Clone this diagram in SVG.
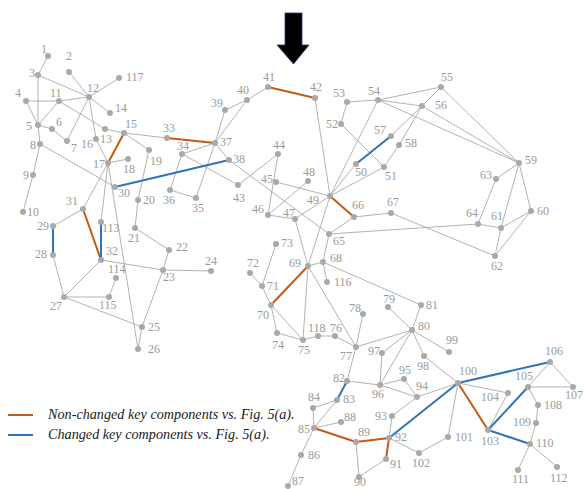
<svg xmlns="http://www.w3.org/2000/svg" width="584" height="489" viewBox="0 0 584 489">
<style>
.e line{stroke:#a0a0a0;stroke-width:0.8;fill:none}
.e line.o,line.o{stroke:#c55a11;stroke-width:2}
.e line.b,line.b{stroke:#2e75b6;stroke-width:2}
circle{fill:#a9a9a9}
text{font-family:"Liberation Serif","Times New Roman",serif;font-size:12px;fill:#9a9a9a}
.lg{font-style:italic;font-size:14.2px;fill:#1a1a1a}
</style>
<rect width="584" height="489" fill="#fff"/>
<polygon points="285,13 302,13 302,45 309,45 293.5,64 277,45 285,45" fill="#000" stroke="#1f3864" stroke-width="0.8"/>
<g id="edges" class="e">
<line x1="48" y1="56" x2="38" y2="75"/>
<line x1="69" y1="72" x2="89" y2="97"/>
<line x1="38" y1="75" x2="38" y2="125"/>
<line x1="38" y1="75" x2="89" y2="97"/>
<line x1="26" y1="101" x2="59" y2="101"/>
<line x1="26" y1="101" x2="38" y2="125"/>
<line x1="59" y1="101" x2="89" y2="97"/>
<line x1="59" y1="101" x2="38" y2="125"/>
<line x1="59" y1="101" x2="105" y2="129"/>
<line x1="105" y1="129" x2="124" y2="133"/>
<line x1="124" y1="133" x2="167" y2="138"/>
<line x1="89" y1="97" x2="119" y2="78"/>
<line x1="89" y1="97" x2="110" y2="113"/>
<line x1="89" y1="97" x2="67" y2="141"/>
<line x1="89" y1="97" x2="96" y2="139"/>
<line x1="38" y1="125" x2="52" y2="129"/>
<line x1="52" y1="129" x2="67" y2="141"/>
<line x1="38" y1="125" x2="40" y2="144"/>
<line x1="40" y1="144" x2="33" y2="175"/>
<line x1="33" y1="175" x2="23" y2="212"/>
<line x1="40" y1="144" x2="115" y2="187"/>
<line x1="96" y1="139" x2="108" y2="163"/>
<line x1="108" y1="163" x2="128" y2="159"/>
<line x1="124" y1="133" x2="149" y2="150"/>
<line x1="149" y1="150" x2="138" y2="200"/>
<line x1="138" y1="200" x2="135" y2="228"/>
<line x1="108" y1="163" x2="83" y2="209"/>
<line x1="108" y1="163" x2="101" y2="222"/>
<line x1="108" y1="163" x2="138" y2="349"/>
<line x1="53" y1="226" x2="83" y2="209"/>
<line x1="53" y1="255" x2="64" y2="297"/>
<line x1="101" y1="260" x2="64" y2="297"/>
<line x1="101" y1="260" x2="163" y2="270"/>
<line x1="135" y1="228" x2="169" y2="250"/>
<line x1="169" y1="250" x2="163" y2="270"/>
<line x1="163" y1="270" x2="211" y2="271"/>
<line x1="163" y1="270" x2="142" y2="327"/>
<line x1="116" y1="278" x2="109" y2="297"/>
<line x1="64" y1="297" x2="109" y2="297"/>
<line x1="64" y1="297" x2="142" y2="327"/>
<line x1="142" y1="327" x2="138" y2="349"/>
<line x1="215" y1="143" x2="225" y2="110"/>
<line x1="225" y1="110" x2="247" y2="100"/>
<line x1="247" y1="100" x2="215" y2="143"/>
<line x1="247" y1="100" x2="268" y2="87"/>
<line x1="215" y1="143" x2="182" y2="154"/>
<line x1="182" y1="154" x2="170" y2="190"/>
<line x1="170" y1="190" x2="196" y2="198"/>
<line x1="196" y1="198" x2="215" y2="143"/>
<line x1="215" y1="143" x2="229" y2="160"/>
<line x1="229" y1="160" x2="329" y2="234"/>
<line x1="182" y1="154" x2="238" y2="185"/>
<line x1="238" y1="185" x2="278" y2="154"/>
<line x1="278" y1="154" x2="268" y2="215"/>
<line x1="276" y1="182" x2="330" y2="196"/>
<line x1="268" y1="215" x2="308" y2="181"/>
<line x1="268" y1="215" x2="295" y2="219"/>
<line x1="295" y1="219" x2="330" y2="196"/>
<line x1="295" y1="219" x2="308" y2="266"/>
<line x1="315" y1="98" x2="330" y2="196"/>
<line x1="330" y1="196" x2="378" y2="100"/>
<line x1="330" y1="196" x2="356" y2="164"/>
<line x1="330" y1="196" x2="384" y2="167"/>
<line x1="341" y1="124" x2="384" y2="167"/>
<line x1="347" y1="102" x2="341" y2="124"/>
<line x1="347" y1="102" x2="378" y2="100"/>
<line x1="378" y1="100" x2="441" y2="87"/>
<line x1="378" y1="100" x2="422" y2="106"/>
<line x1="378" y1="100" x2="519" y2="163"/>
<line x1="422" y1="106" x2="519" y2="163"/>
<line x1="441" y1="87" x2="519" y2="163"/>
<line x1="441" y1="87" x2="422" y2="106"/>
<line x1="422" y1="106" x2="391" y2="136"/>
<line x1="422" y1="106" x2="399" y2="145"/>
<line x1="399" y1="145" x2="384" y2="167"/>
<line x1="519" y1="163" x2="496" y2="179"/>
<line x1="496" y1="179" x2="478" y2="224"/>
<line x1="519" y1="163" x2="501" y2="228"/>
<line x1="519" y1="163" x2="531" y2="211"/>
<line x1="531" y1="211" x2="501" y2="228"/>
<line x1="531" y1="211" x2="495" y2="256"/>
<line x1="501" y1="228" x2="495" y2="256"/>
<line x1="478" y1="224" x2="501" y2="228"/>
<line x1="329" y1="234" x2="478" y2="224"/>
<line x1="354" y1="217" x2="391" y2="213"/>
<line x1="391" y1="213" x2="495" y2="256"/>
<line x1="354" y1="217" x2="329" y2="234"/>
<line x1="329" y1="234" x2="323" y2="262"/>
<line x1="323" y1="262" x2="327" y2="282"/>
<line x1="323" y1="262" x2="421" y2="305"/>
<line x1="308" y1="266" x2="323" y2="262"/>
<line x1="308" y1="266" x2="330" y2="196"/>
<line x1="308" y1="266" x2="303" y2="340"/>
<line x1="308" y1="266" x2="356" y2="347"/>
<line x1="276" y1="244" x2="262" y2="286"/>
<line x1="250" y1="273" x2="262" y2="286"/>
<line x1="262" y1="286" x2="271" y2="305"/>
<line x1="271" y1="305" x2="277" y2="333"/>
<line x1="271" y1="305" x2="303" y2="340"/>
<line x1="277" y1="333" x2="303" y2="340"/>
<line x1="303" y1="340" x2="318" y2="336"/>
<line x1="318" y1="336" x2="335" y2="336"/>
<line x1="335" y1="336" x2="356" y2="347"/>
<line x1="356" y1="347" x2="363" y2="314"/>
<line x1="356" y1="347" x2="412" y2="330"/>
<line x1="356" y1="347" x2="347" y2="381"/>
<line x1="388" y1="307" x2="412" y2="330"/>
<line x1="412" y1="330" x2="421" y2="305"/>
<line x1="412" y1="330" x2="382" y2="353"/>
<line x1="412" y1="330" x2="380" y2="385"/>
<line x1="412" y1="330" x2="424" y2="356"/>
<line x1="412" y1="330" x2="449" y2="352"/>
<line x1="382" y1="353" x2="380" y2="385"/>
<line x1="424" y1="356" x2="458" y2="383"/>
<line x1="417" y1="397" x2="458" y2="383"/>
<line x1="347" y1="381" x2="380" y2="385"/>
<line x1="380" y1="385" x2="404" y2="379"/>
<line x1="380" y1="385" x2="417" y2="397"/>
<line x1="404" y1="379" x2="417" y2="397"/>
<line x1="313" y1="408" x2="337" y2="400"/>
<line x1="313" y1="408" x2="314" y2="428"/>
<line x1="337" y1="400" x2="314" y2="428"/>
<line x1="314" y1="428" x2="301" y2="455"/>
<line x1="301" y1="455" x2="288" y2="486"/>
<line x1="314" y1="428" x2="341" y2="422"/>
<line x1="356" y1="442" x2="359" y2="477"/>
<line x1="359" y1="477" x2="386" y2="459"/>
<line x1="389" y1="438" x2="392" y2="416"/>
<line x1="392" y1="416" x2="417" y2="397"/>
<line x1="389" y1="438" x2="419" y2="453"/>
<line x1="419" y1="453" x2="448" y2="437"/>
<line x1="458" y1="383" x2="448" y2="437"/>
<line x1="458" y1="383" x2="508" y2="393"/>
<line x1="508" y1="393" x2="488" y2="430"/>
<line x1="528" y1="387" x2="550" y2="362"/>
<line x1="550" y1="362" x2="573" y2="387"/>
<line x1="528" y1="387" x2="573" y2="387"/>
<line x1="528" y1="387" x2="538" y2="405"/>
<line x1="538" y1="405" x2="536" y2="423"/>
<line x1="536" y1="423" x2="530" y2="444"/>
<line x1="530" y1="444" x2="518" y2="470"/>
<line x1="530" y1="444" x2="557" y2="467"/>
<line class="o" x1="124" y1="133" x2="108" y2="163"/>
<line class="o" x1="83" y1="209" x2="101" y2="260"/>
<line class="o" x1="167" y1="138" x2="215" y2="143"/>
<line class="o" x1="268" y1="87" x2="315" y2="98"/>
<line class="o" x1="330" y1="196" x2="354" y2="217"/>
<line class="o" x1="308" y1="266" x2="271" y2="305"/>
<line class="o" x1="314" y1="428" x2="356" y2="442"/>
<line class="o" x1="356" y1="442" x2="389" y2="438"/>
<line class="o" x1="389" y1="438" x2="386" y2="459"/>
<line class="o" x1="458" y1="383" x2="488" y2="430"/>
<line class="b" x1="53" y1="226" x2="53" y2="255"/>
<line class="b" x1="101" y1="222" x2="101" y2="260"/>
<line class="b" x1="115" y1="187" x2="229" y2="160"/>
<line class="b" x1="356" y1="164" x2="391" y2="136"/>
<line class="b" x1="347" y1="381" x2="337" y2="400"/>
<line class="b" x1="389" y1="438" x2="458" y2="383"/>
<line class="b" x1="458" y1="383" x2="550" y2="362"/>
<line class="b" x1="488" y1="430" x2="528" y2="387"/>
<line class="b" x1="488" y1="430" x2="530" y2="444"/>
</g>
<g id="nodes">
<g id="n1"><circle cx="48" cy="56" r="3"/><text x="41" y="53">1</text></g>
<g id="n2"><circle cx="69" cy="72" r="3"/><text x="66" y="60">2</text></g>
<g id="n3"><circle cx="38" cy="75" r="3"/><text x="29" y="77">3</text></g>
<g id="n4"><circle cx="26" cy="101" r="3"/><text x="15" y="97">4</text></g>
<g id="n5"><circle cx="38" cy="125" r="3"/><text x="26" y="130">5</text></g>
<g id="n6"><circle cx="52" cy="129" r="3"/><text x="56" y="126">6</text></g>
<g id="n7"><circle cx="67" cy="141" r="3"/><text x="71" y="152">7</text></g>
<g id="n8"><circle cx="40" cy="144" r="3"/><text x="30" y="149">8</text></g>
<g id="n9"><circle cx="33" cy="175" r="3"/><text x="23" y="179">9</text></g>
<g id="n10"><circle cx="23" cy="212" r="3"/><text x="27" y="216">10</text></g>
<g id="n11"><circle cx="59" cy="101" r="3"/><text x="50" y="97">11</text></g>
<g id="n12"><circle cx="89" cy="97" r="3"/><text x="87" y="92">12</text></g>
<g id="n13"><circle cx="105" cy="129" r="3"/><text x="100" y="143">13</text></g>
<g id="n14"><circle cx="110" cy="113" r="3"/><text x="115" y="112">14</text></g>
<g id="n15"><circle cx="124" cy="133" r="3"/><text x="125" y="128">15</text></g>
<g id="n16"><circle cx="96" cy="139" r="3"/><text x="81" y="148">16</text></g>
<g id="n17"><circle cx="108" cy="163" r="3"/><text x="93" y="168">17</text></g>
<g id="n18"><circle cx="128" cy="159" r="3"/><text x="123" y="173">18</text></g>
<g id="n19"><circle cx="149" cy="150" r="3"/><text x="150" y="165">19</text></g>
<g id="n20"><circle cx="138" cy="200" r="3"/><text x="143" y="204">20</text></g>
<g id="n21"><circle cx="135" cy="228" r="3"/><text x="128" y="242">21</text></g>
<g id="n22"><circle cx="169" cy="250" r="3"/><text x="176" y="251">22</text></g>
<g id="n23"><circle cx="163" cy="270" r="3"/><text x="163" y="281">23</text></g>
<g id="n24"><circle cx="211" cy="271" r="3"/><text x="205" y="265">24</text></g>
<g id="n25"><circle cx="142" cy="327" r="3"/><text x="148" y="331">25</text></g>
<g id="n26"><circle cx="138" cy="349" r="3"/><text x="148" y="353">26</text></g>
<g id="n27"><circle cx="64" cy="297" r="3"/><text x="50" y="310">27</text></g>
<g id="n28"><circle cx="53" cy="255" r="3"/><text x="35" y="258">28</text></g>
<g id="n29"><circle cx="53" cy="226" r="3"/><text x="37" y="230">29</text></g>
<g id="n30"><circle cx="115" cy="187" r="3"/><text x="118" y="197">30</text></g>
<g id="n31"><circle cx="83" cy="209" r="3"/><text x="66" y="205">31</text></g>
<g id="n32"><circle cx="101" cy="260" r="3"/><text x="106" y="255">32</text></g>
<g id="n33"><circle cx="167" cy="138" r="3"/><text x="163" y="132">33</text></g>
<g id="n34"><circle cx="182" cy="154" r="3"/><text x="177" y="150">34</text></g>
<g id="n35"><circle cx="196" cy="198" r="3"/><text x="192" y="212">35</text></g>
<g id="n36"><circle cx="170" cy="190" r="3"/><text x="163" y="204">36</text></g>
<g id="n37"><circle cx="215" cy="143" r="3"/><text x="220" y="146">37</text></g>
<g id="n38"><circle cx="229" cy="160" r="3"/><text x="233" y="163">38</text></g>
<g id="n39"><circle cx="225" cy="110" r="3"/><text x="211" y="107">39</text></g>
<g id="n40"><circle cx="247" cy="100" r="3"/><text x="237" y="94">40</text></g>
<g id="n41"><circle cx="268" cy="87" r="3"/><text x="263" y="81">41</text></g>
<g id="n42"><circle cx="315" cy="98" r="3"/><text x="310" y="91">42</text></g>
<g id="n43"><circle cx="238" cy="185" r="3"/><text x="233" y="202">43</text></g>
<g id="n44"><circle cx="278" cy="154" r="3"/><text x="273" y="149">44</text></g>
<g id="n45"><circle cx="276" cy="182" r="3"/><text x="261" y="183">45</text></g>
<g id="n46"><circle cx="268" cy="215" r="3"/><text x="252" y="213">46</text></g>
<g id="n47"><circle cx="295" cy="219" r="3"/><text x="283" y="217">47</text></g>
<g id="n48"><circle cx="308" cy="181" r="3"/><text x="303" y="176">48</text></g>
<g id="n49"><circle cx="330" cy="196" r="3"/><text x="307" y="204">49</text></g>
<g id="n50"><circle cx="356" cy="164" r="3"/><text x="355" y="176">50</text></g>
<g id="n51"><circle cx="384" cy="167" r="3"/><text x="385" y="180">51</text></g>
<g id="n52"><circle cx="341" cy="124" r="3"/><text x="326" y="128">52</text></g>
<g id="n53"><circle cx="347" cy="102" r="3"/><text x="333" y="97">53</text></g>
<g id="n54"><circle cx="378" cy="100" r="3"/><text x="368" y="95">54</text></g>
<g id="n55"><circle cx="441" cy="87" r="3"/><text x="441" y="81">55</text></g>
<g id="n56"><circle cx="422" cy="106" r="3"/><text x="435" y="109">56</text></g>
<g id="n57"><circle cx="391" cy="136" r="3"/><text x="374" y="134">57</text></g>
<g id="n58"><circle cx="399" cy="145" r="3"/><text x="405" y="147">58</text></g>
<g id="n59"><circle cx="519" cy="163" r="3"/><text x="525" y="164">59</text></g>
<g id="n60"><circle cx="531" cy="211" r="3"/><text x="537" y="215">60</text></g>
<g id="n61"><circle cx="501" cy="228" r="3"/><text x="491" y="220">61</text></g>
<g id="n62"><circle cx="495" cy="256" r="3"/><text x="491" y="270">62</text></g>
<g id="n63"><circle cx="496" cy="179" r="3"/><text x="480" y="179">63</text></g>
<g id="n64"><circle cx="478" cy="224" r="3"/><text x="466" y="217">64</text></g>
<g id="n65"><circle cx="329" cy="234" r="3"/><text x="333" y="245">65</text></g>
<g id="n66"><circle cx="354" cy="217" r="3"/><text x="352" y="209">66</text></g>
<g id="n67"><circle cx="391" cy="213" r="3"/><text x="387" y="206">67</text></g>
<g id="n68"><circle cx="323" cy="262" r="3"/><text x="330" y="262">68</text></g>
<g id="n69"><circle cx="308" cy="266" r="3"/><text x="289" y="267">69</text></g>
<g id="n70"><circle cx="271" cy="305" r="3"/><text x="257" y="319">70</text></g>
<g id="n71"><circle cx="262" cy="286" r="3"/><text x="267" y="290">71</text></g>
<g id="n72"><circle cx="250" cy="273" r="3"/><text x="247" y="267">72</text></g>
<g id="n73"><circle cx="276" cy="244" r="3"/><text x="281" y="247">73</text></g>
<g id="n74"><circle cx="277" cy="333" r="3"/><text x="272" y="349">74</text></g>
<g id="n75"><circle cx="303" cy="340" r="3"/><text x="298" y="354">75</text></g>
<g id="n76"><circle cx="335" cy="336" r="3"/><text x="330" y="332">76</text></g>
<g id="n77"><circle cx="356" cy="347" r="3"/><text x="340" y="360">77</text></g>
<g id="n78"><circle cx="363" cy="314" r="3"/><text x="349" y="312">78</text></g>
<g id="n79"><circle cx="388" cy="307" r="3"/><text x="383" y="303">79</text></g>
<g id="n80"><circle cx="412" cy="330" r="3"/><text x="418" y="330">80</text></g>
<g id="n81"><circle cx="421" cy="305" r="3"/><text x="426" y="309">81</text></g>
<g id="n82"><circle cx="347" cy="381" r="3"/><text x="333" y="382">82</text></g>
<g id="n83"><circle cx="337" cy="400" r="3"/><text x="343" y="403">83</text></g>
<g id="n84"><circle cx="313" cy="408" r="3"/><text x="308" y="401">84</text></g>
<g id="n85"><circle cx="314" cy="428" r="3"/><text x="298" y="433">85</text></g>
<g id="n86"><circle cx="301" cy="455" r="3"/><text x="308" y="459">86</text></g>
<g id="n87"><circle cx="288" cy="486" r="3"/><text x="292" y="485">87</text></g>
<g id="n88"><circle cx="341" cy="422" r="3"/><text x="344" y="421">88</text></g>
<g id="n89"><circle cx="356" cy="442" r="3"/><text x="358" y="436">89</text></g>
<g id="n90"><circle cx="359" cy="477" r="3"/><text x="354" y="486">90</text></g>
<g id="n91"><circle cx="386" cy="459" r="3"/><text x="390" y="468">91</text></g>
<g id="n92"><circle cx="389" cy="438" r="3"/><text x="395" y="441">92</text></g>
<g id="n93"><circle cx="392" cy="416" r="3"/><text x="375" y="420">93</text></g>
<g id="n94"><circle cx="417" cy="397" r="3"/><text x="416" y="390">94</text></g>
<g id="n95"><circle cx="404" cy="379" r="3"/><text x="399" y="374">95</text></g>
<g id="n96"><circle cx="380" cy="385" r="3"/><text x="372" y="398">96</text></g>
<g id="n97"><circle cx="382" cy="353" r="3"/><text x="368" y="355">97</text></g>
<g id="n98"><circle cx="424" cy="356" r="3"/><text x="417" y="370">98</text></g>
<g id="n99"><circle cx="449" cy="352" r="3"/><text x="446" y="344">99</text></g>
<g id="n100"><circle cx="458" cy="383" r="3"/><text x="459" y="375">100</text></g>
<g id="n101"><circle cx="448" cy="437" r="3"/><text x="455" y="441">101</text></g>
<g id="n102"><circle cx="419" cy="453" r="3"/><text x="412" y="467">102</text></g>
<g id="n103"><circle cx="488" cy="430" r="3"/><text x="481" y="445">103</text></g>
<g id="n104"><circle cx="508" cy="393" r="3"/><text x="481" y="401">104</text></g>
<g id="n105"><circle cx="528" cy="387" r="3"/><text x="515" y="380">105</text></g>
<g id="n106"><circle cx="550" cy="362" r="3"/><text x="545" y="355">106</text></g>
<g id="n107"><circle cx="573" cy="387" r="3"/><text x="565" y="399">107</text></g>
<g id="n108"><circle cx="538" cy="405" r="3"/><text x="544" y="409">108</text></g>
<g id="n109"><circle cx="536" cy="423" r="3"/><text x="513" y="426">109</text></g>
<g id="n110"><circle cx="530" cy="444" r="3"/><text x="536" y="447">110</text></g>
<g id="n111"><circle cx="518" cy="470" r="3"/><text x="512" y="483">111</text></g>
<g id="n112"><circle cx="557" cy="467" r="3"/><text x="550" y="482">112</text></g>
<g id="n113"><circle cx="101" cy="222" r="3"/><text x="102" y="232">113</text></g>
<g id="n114"><circle cx="116" cy="278" r="3"/><text x="108" y="273">114</text></g>
<g id="n115"><circle cx="109" cy="297" r="3"/><text x="99" y="309">115</text></g>
<g id="n116"><circle cx="327" cy="282" r="3"/><text x="334" y="286">116</text></g>
<g id="n117"><circle cx="119" cy="78" r="3"/><text x="126" y="81">117</text></g>
<g id="n118"><circle cx="318" cy="336" r="3"/><text x="308" y="332">118</text></g>
</g>
<g id="legend">
<line class="o" x1="8" y1="415" x2="33" y2="415"/>
<text class="lg" x="48" y="419">Non-changed key components vs. Fig. 5(a).</text>
<line class="b" x1="8" y1="435" x2="33" y2="435"/>
<text class="lg" x="48" y="439">Changed key components vs. Fig. 5(a).</text>
</g>
</svg>
